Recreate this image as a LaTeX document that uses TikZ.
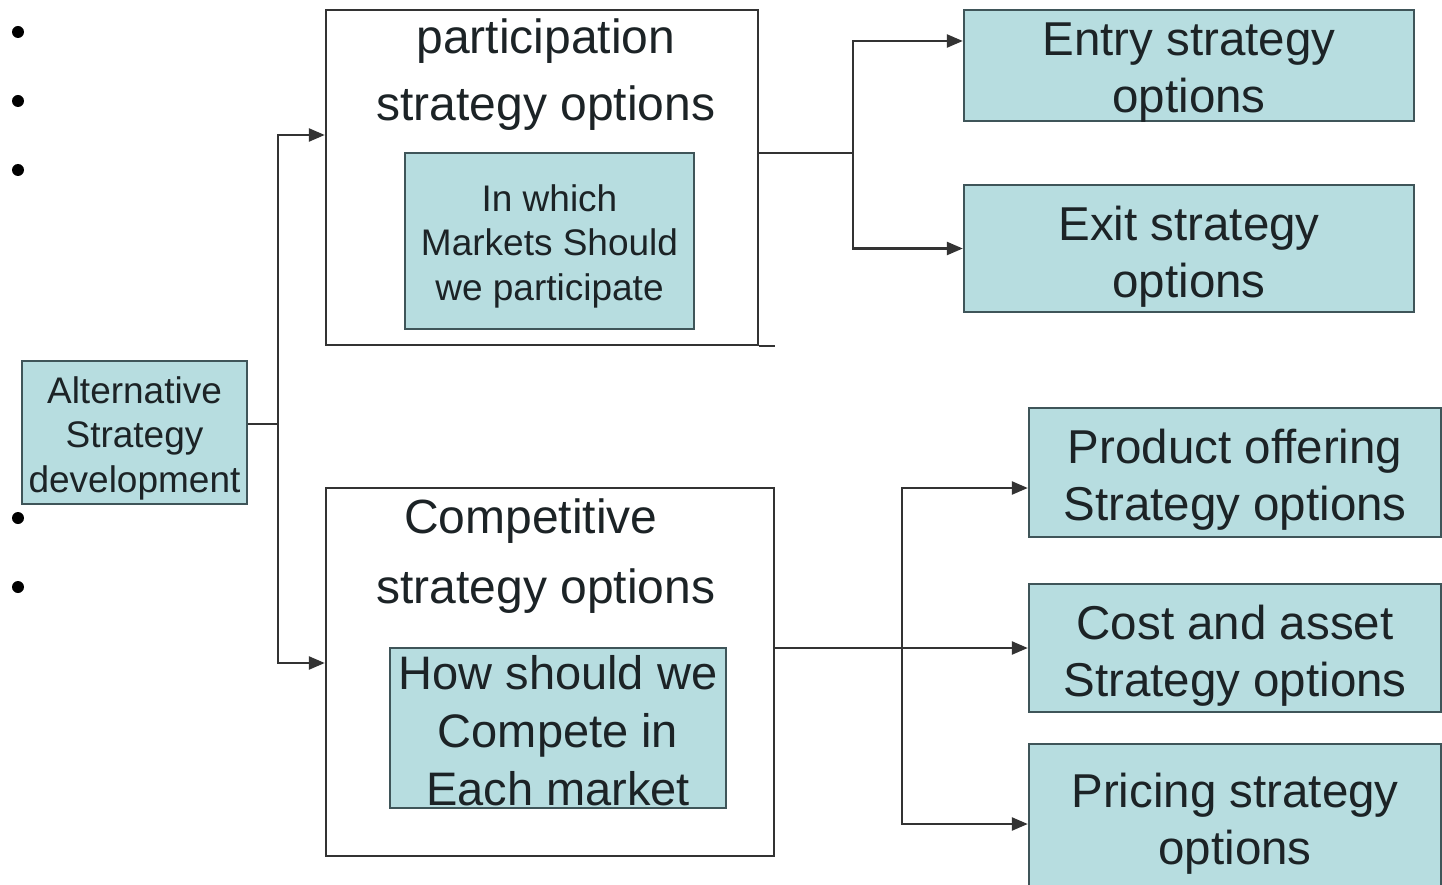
\documentclass[tikz,border=0pt]{standalone}
\usepackage{fontspec}
\setmainfont{Liberation Sans}
\usetikzlibrary{arrows.meta}
\definecolor{boxfill}{HTML}{B7DDE0}
\definecolor{boxedge}{HTML}{3F5559}
\definecolor{inkc}{HTML}{1C2326}
\tikzset{
  tealbox/.style={draw=boxedge, line width=2.4pt, fill=boxfill, rectangle, inner sep=0pt},
  framebox/.style={draw=black!80, line width=2.4pt, fill=white, rectangle, inner sep=0pt},
  txt/.style={align=center, text=inkc, inner sep=0pt},
  big/.style={txt, font=\fontsize{47.5}{57}\selectfont},
  small/.style={txt, font=\fontsize{37}{44.5}\selectfont},
  wire/.style={draw=black!80, line width=2.4pt},
  arr/.style={wire, -{Triangle[length=16pt,width=13pt]}},
  dot/.style={circle, fill=black, inner sep=0pt, minimum size=12pt}
}
\begin{document}
\begin{tikzpicture}[x=1pt, y=-1pt]
\clip (0,0) rectangle (1442,885);
\fill[white] (0,0) rectangle (1442,885);

% bullet column on the left
\node[dot] (b1) at (18,32) {};
\node[dot] (b2) at (18,101) {};
\node[dot] (b3) at (18,170) {};
\node[dot] (b4) at (18,518) {};
\node[dot] (b5) at (18,587) {};

% root
\node[tealbox, minimum width=225pt, minimum height=143pt] (alt) at (134.5,432.5) {};
\node[small] (altT) at (134.5,438) {Alternative\\Strategy\\development};

% participation frame
\node[framebox, minimum width=432pt, minimum height=335pt] (part) at (542,177.5) {};
\draw[wire] (part.south east) -- ++(16,0);
\node[txt, font=\fontsize{48}{67}\selectfont] (partT) at (546,75)
  {participation\\strategy options};
\node[tealbox, minimum width=289pt, minimum height=176pt] (partIn) at (549.5,241) {};
\node[small] (partInT) at (549.5,246) {In which\\Markets Should\\we participate};

% competitive frame
\node[framebox, minimum width=448pt, minimum height=368pt] (comp) at (550,672) {};
\node[txt, font=\fontsize{48}{67}\selectfont] (compT1) at (531,521) {Competitive};
\node[txt, font=\fontsize{48}{67}\selectfont] (compT2) at (546,591) {strategy options};
\node[tealbox, minimum width=336pt, minimum height=160pt] (compIn) at (558,728) {};
\node[txt, font=\fontsize{47}{58}\selectfont] (compInT) at (558,731)
  {How should we\\Compete in\\Each market};

% participation outcomes
\node[tealbox, minimum width=450pt, minimum height=111pt] (entry) at (1189,65.5) {};
\node[big] (entryT) at (1189,72.5) {Entry strategy\\options};
\node[tealbox, minimum width=450pt, minimum height=127pt] (exit) at (1189,248.5) {};
\node[big] (exitT) at (1189,256.5) {Exit strategy\\options};

% competitive outcomes
\node[tealbox, minimum width=412pt, minimum height=129pt] (prod) at (1235,472.5) {};
\node[big] (prodT) at (1235,480) {Product offering\\Strategy options};
\node[tealbox, minimum width=412pt, minimum height=128pt] (cost) at (1235,648) {};
\node[big] (costT) at (1235,656) {Cost and asset\\Strategy options};
\node[tealbox, minimum width=412pt, minimum height=156pt] (price) at (1235,822) {};
\node[big] (priceT) at (1235,824) {Pricing strategy\\options};

% connectors from the root
\coordinate (j1) at (278,424);
\draw[wire] ([yshift=8.5pt]alt.east) -- (j1);
\draw[arr] (j1) |- ([yshift=42.5pt]part.west);
\draw[arr] (j1) |- ([yshift=9pt]comp.west);

% connectors from participation
\coordinate (j2) at (853,153);
\draw[wire] ([yshift=24.5pt]part.east) -- (j2);
\draw[arr] (j2) |- ([yshift=24.5pt]entry.west);
\draw[arr] (j2) |- (exit.west);

% connectors from competitive
\coordinate (j3) at (902,648);
\draw[arr] ([yshift=24pt]comp.east) -- (cost.west);
\draw[arr] (j3) |- ([yshift=-15.5pt]prod.west);
\draw[arr] (j3) |- ([yshift=-2pt]price.west);
\end{tikzpicture}
\end{document}
